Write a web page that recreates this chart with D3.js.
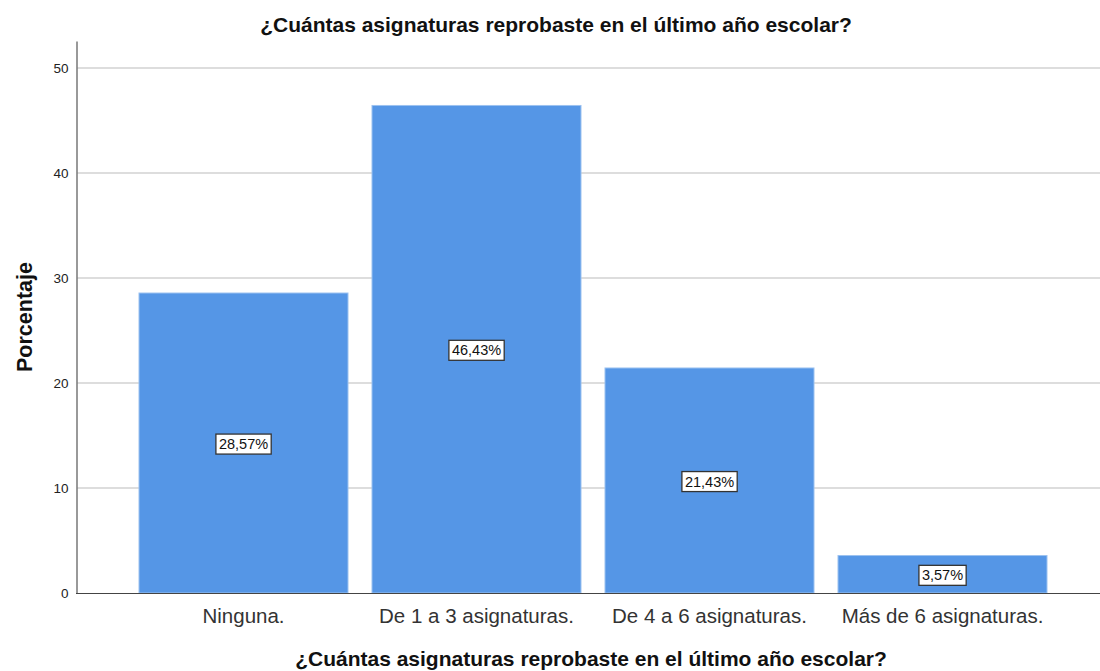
<!DOCTYPE html>
<html><head><meta charset="utf-8">
<script src="https://cdn.jsdelivr.net/npm/d3@7"></script>
<style>body{margin:0;background:#fff;} text{font-family:Arial,"Liberation Sans",sans-serif;}</style>
</head><body>
<svg id="c" width="1100" height="671"></svg>
<script>
const categories = ["Ninguna.", "De 1 a 3 asignaturas.", "De 4 a 6 asignaturas.", "Más de 6 asignaturas."];
const values = [28.57, 46.43, 21.43, 3.57];
const valueLabels = ["28,57%", "46,43%", "21,43%", "3,57%"];
const yTicks = [0, 10, 20, 30, 40, 50];
const title = "¿Cuántas asignaturas reprobaste en el último año escolar?";
const yTitle = "Porcentaje";

const svg = d3.select("#c");
const y = d3.scaleLinear().domain([0, 52.57]).range([593, 41]);
const x = d3.scaleBand().domain(categories).range([127, 1059]).paddingInner(0.103).paddingOuter(0.0515);

// gridlines
svg.append("g").selectAll("line").data(yTicks.filter(d => d > 0)).join("line")
  .attr("x1", 77).attr("x2", 1100).attr("y1", d => y(d)).attr("y2", d => y(d))
  .attr("stroke", "#d2d2d2").attr("stroke-width", 1.5);

// bars
svg.append("g").selectAll("rect").data(values).join("rect")
  .attr("x", (d, i) => x(categories[i])).attr("width", x.bandwidth())
  .attr("y", d => y(d)).attr("height", d => y(0) - y(d))
  .attr("fill", "#5596e6").attr("stroke", "#9cc2f0").attr("stroke-width", 1);

// y axis
const yAxis = d3.axisLeft(y).tickValues(yTicks).tickSize(0).tickPadding(8);
const ga = svg.append("g").attr("transform", "translate(76.5,0)").call(yAxis);
ga.select(".domain").attr("stroke", "#777").attr("stroke-width", 1.5);
ga.selectAll("text").attr("font-size", 13.5).attr("fill", "#222").style("font-family", "Arial, 'Liberation Sans', sans-serif");

// x axis
const xAxis = d3.axisBottom(x).tickSize(0).tickPadding(15);
const gx = svg.append("g").attr("transform", "translate(0,593.5)").call(xAxis);
gx.select(".domain").attr("d", "M76,0H1100").attr("stroke", "#444").attr("stroke-width", 1.2);
gx.selectAll("text").attr("font-size", 20.5).attr("fill", "#333").style("font-family", "Arial, 'Liberation Sans', sans-serif");

// value labels
const lg = svg.append("g").selectAll("g").data(values).join("g")
  .attr("transform", (d, i) => `translate(${x(categories[i]) + x.bandwidth() / 2},${(y(d) + y(0)) / 2 + 1})`);
lg.append("text").attr("text-anchor", "middle").attr("dy", "0.35em").attr("font-size", 14.5).attr("fill", "#111")
  .text((d, i) => valueLabels[i]);
lg.each(function () {
  const g = d3.select(this);
  const b = g.select("text").node().getBBox();
  g.insert("rect", "text").attr("x", b.x - 3).attr("y", b.y - 2).attr("width", b.width + 6).attr("height", b.height + 4)
    .attr("fill", "#fff").attr("stroke", "#333").attr("stroke-width", 1.3);
});

// titles
svg.append("text").attr("x", 556).attr("y", 32).attr("text-anchor", "middle").attr("font-size", 21)
  .attr("font-weight", "bold").attr("fill", "#111").text(title);
svg.append("text").attr("x", 591).attr("y", 666).attr("text-anchor", "middle").attr("font-size", 21)
  .attr("font-weight", "bold").attr("fill", "#111").text(title);
svg.append("text").attr("transform", "translate(32,317) rotate(-90)").attr("text-anchor", "middle").attr("font-size", 21.5)
  .attr("font-weight", "bold").attr("fill", "#111").text(yTitle);
</script>
</body></html>
